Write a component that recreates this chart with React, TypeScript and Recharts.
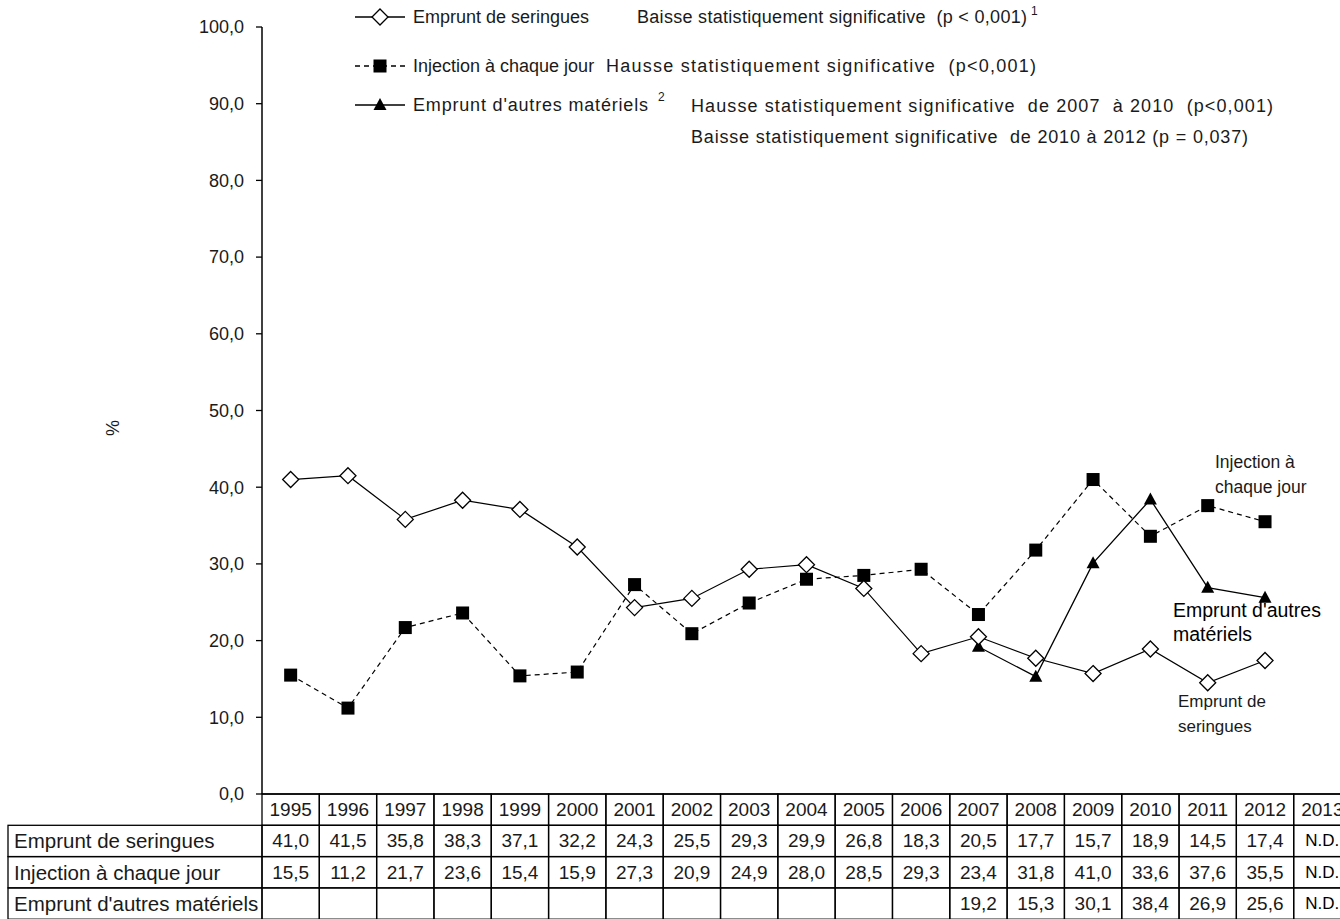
import { Line, LineChart, XAxis, YAxis } from "recharts";

const YEARS = ["1995", "1996", "1997", "1998", "1999", "2000", "2001", "2002", "2003", "2004", "2005", "2006", "2007", "2008", "2009", "2010", "2011", "2012", "2013"];
const ND_YEARS = ["2013"];

const SERINGUES = [41.0, 41.5, 35.8, 38.3, 37.1, 32.2, 24.3, 25.5, 29.3, 29.9, 26.8, 18.3, 20.5, 17.7, 15.7, 18.9, 14.5, 17.4, null];
const INJECTION = [15.5, 11.2, 21.7, 23.6, 15.4, 15.9, 27.3, 20.9, 24.9, 28.0, 28.5, 29.3, 23.4, 31.8, 41.0, 33.6, 37.6, 35.5, null];
const AUTRES = [null, null, null, null, null, null, null, null, null, null, null, null, 19.2, 15.3, 30.1, 38.4, 26.9, 25.6, null];

const ROW_LABELS = ["Emprunt de seringues", "Injection à chaque jour", "Emprunt d'autres matériels"];
const Y_TICKS = [0, 10, 20, 30, 40, 50, 60, 70, 80, 90, 100];

const FONT = "'Liberation Sans', Arial, Helvetica, sans-serif";
const TEXT = "#1a1a1a";

const CHART_W = 1360;
const CHART_H = 919;
const AXIS_W = 262;
const PLOT_TOP = 27;
const TABLE_H = 125;
const MARGIN_RIGHT = 9;
const BAND = (CHART_W - AXIS_W - MARGIN_RIGHT) / YEARS.length;
const ROW_H = 31.3;

const data = YEARS.map((year, i) => ({
  year,
  seringues: SERINGUES[i],
  injection: INJECTION[i],
  autres: AUTRES[i],
}));

const fmt = (v: number | null) => (v == null ? "" : v.toFixed(1).replace(".", ","));

function Diamond({ cx, cy }: any) {
  if (cx == null || cy == null) return <g />;
  const r = 8;
  return (
    <polygon
      points={`${cx},${cy - r} ${cx + r},${cy} ${cx},${cy + r} ${cx - r},${cy}`}
      fill="#fff"
      stroke="#000"
      strokeWidth={1.3}
    />
  );
}

function Square({ cx, cy }: any) {
  if (cx == null || cy == null) return <g />;
  return <rect x={cx - 6.5} y={cy - 6.5} width={13} height={13} fill="#000" />;
}

function Triangle({ cx, cy }: any) {
  if (cx == null || cy == null) return <g />;
  return <polygon points={`${cx},${cy - 7} ${cx + 6.5},${cy + 5} ${cx - 6.5},${cy + 5}`} fill="#000" />;
}

// each x tick draws one column of the data table under the plot
function TableColumn(props: any) {
  const { x, y, payload } = props;
  const i = payload.index;
  const year = YEARS[i];
  const nd = ND_YEARS.includes(year);
  const left = x - BAND / 2;
  const cells = [
    year,
    nd ? "N.D." : fmt(SERINGUES[i]),
    nd ? "N.D." : fmt(INJECTION[i]),
    nd ? "N.D." : fmt(AUTRES[i]),
  ];
  return (
    <g>
      {i === 0 &&
        ROW_LABELS.map((label, r) => (
          <g key={label}>
            <rect x={8} y={y + ROW_H * (r + 1)} width={left - 8} height={ROW_H} fill="none" stroke="#000" strokeWidth={1.3} />
            <text x={14} y={y + ROW_H * (r + 1.5)} dominantBaseline="central" fontSize={20.5} fill={TEXT} fontFamily={FONT}>
              {label}
            </text>
          </g>
        ))}
      {cells.map((c, r) => (
        <g key={r}>
          <rect x={left} y={y + ROW_H * r} width={BAND} height={ROW_H} fill="none" stroke="#000" strokeWidth={1.3} />
          <text
            x={x}
            y={y + ROW_H * (r + 0.5)}
            textAnchor="middle"
            dominantBaseline="central"
            fontSize={nd && r > 0 ? 17 : 19}
            fill={nd && r > 0 ? "#000" : TEXT}
            fontFamily={FONT}
          >
            {c}
          </text>
        </g>
      ))}
    </g>
  );
}

function LegendSample({ y, kind }: { y: number; kind: "diamond" | "square" | "triangle" }) {
  return (
    <g>
      <line x1={355} x2={405} y1={y} y2={y} stroke="#000" strokeWidth={1.3} strokeDasharray={kind === "square" ? "5 4" : undefined} />
      {kind === "diamond" && <Diamond cx={380} cy={y} />}
      {kind === "square" && <Square cx={380} cy={y} />}
      {kind === "triangle" && <Triangle cx={380} cy={y} />}
    </g>
  );
}

function Overlay() {
  const t = {
    fontFamily: FONT,
    fontSize: 18,
    fill: TEXT,
    dominantBaseline: "central" as const,
    style: { whiteSpace: "pre" as const },
  };
  return (
    <svg width={1340} height={919} style={{ position: "absolute", left: 0, top: 0, pointerEvents: "none" }}>
      <LegendSample y={17} kind="diamond" />
      <text x={413} y={17} {...t}>Emprunt de seringues</text>
      <text x={637} y={17} {...t} textLength={390} lengthAdjust="spacing">
        Baisse statistiquement significative  (p &lt; 0,001)
      </text>
      <text x={1031} y={11} {...t} fontSize={12}>1</text>

      <LegendSample y={66} kind="square" />
      <text x={413} y={66} {...t}>Injection à chaque jour</text>
      <text x={606} y={66} {...t} textLength={430} lengthAdjust="spacing">
        Hausse statistiquement significative  (p&lt;0,001)
      </text>

      <LegendSample y={105} kind="triangle" />
      <text x={413} y={105} {...t} textLength={235} lengthAdjust="spacing">Emprunt d'autres matériels</text>
      <text x={658} y={97} {...t} fontSize={12}>2</text>
      <text x={691} y={106} {...t} textLength={582} lengthAdjust="spacing">
        Hausse statistiquement significative  de 2007  à 2010  (p&lt;0,001)
      </text>
      <text x={691} y={137} {...t} textLength={557} lengthAdjust="spacing">
        Baisse statistiquement significative  de 2010 à 2012 (p = 0,037)
      </text>

      <text x={1215} y={462} {...t} fontSize={17.5}>Injection à</text>
      <text x={1215} y={487} {...t} fontSize={17.5}>chaque jour</text>
      <text x={1173} y={610} {...t} fontSize={19.5} fill="#000">Emprunt d'autres</text>
      <text x={1173} y={634} {...t} fontSize={19.5} fill="#000">matériels</text>
      <text x={1178} y={701} {...t} fontSize={17}>Emprunt de</text>
      <text x={1178} y={726} {...t} fontSize={17}>seringues</text>

      <text x={113} y={428} {...t} textAnchor="middle" transform="rotate(-90 113 428)">%</text>
    </svg>
  );
}

export default function App() {
  return (
    <div
      style={{
        position: "absolute",
        left: 0,
        top: 0,
        width: 1340,
        height: 919,
        overflow: "hidden",
        background: "#fff",
        fontFamily: FONT,
      }}
    >
      <LineChart width={CHART_W} height={CHART_H} data={data} margin={{ top: PLOT_TOP, right: MARGIN_RIGHT, bottom: 0, left: 0 }}>
        <XAxis
          dataKey="year"
          interval={0}
          height={TABLE_H}
          padding={{ left: BAND / 2, right: BAND / 2 }}
          axisLine={{ stroke: "#000", strokeWidth: 1.5 }}
          tickLine={false}
          tickSize={0}
          tickMargin={0}
          tick={<TableColumn />}
        />
        <YAxis
          width={AXIS_W}
          domain={[0, 100]}
          ticks={Y_TICKS}
          interval={0}
          tickFormatter={(v: number) => v.toFixed(1).replace(".", ",")}
          axisLine={{ stroke: "#000", strokeWidth: 1.5 }}
          tickLine={{ stroke: "#000", strokeWidth: 1.3 }}
          tickSize={6}
          tickMargin={12}
          tick={{ fill: TEXT, fontSize: 18, fontFamily: FONT }}
        />
        <Line
          dataKey="autres"
          stroke="#000"
          strokeWidth={1.3}
          dot={<Triangle />}
          activeDot={false}
          isAnimationActive={false}
        />
        <Line
          dataKey="injection"
          stroke="#000"
          strokeWidth={1.2}
          strokeDasharray="5 4"
          dot={<Square />}
          activeDot={false}
          isAnimationActive={false}
        />
        <Line
          dataKey="seringues"
          stroke="#000"
          strokeWidth={1.2}
          dot={<Diamond />}
          activeDot={false}
          isAnimationActive={false}
        />
      </LineChart>
      <Overlay />
    </div>
  );
}
